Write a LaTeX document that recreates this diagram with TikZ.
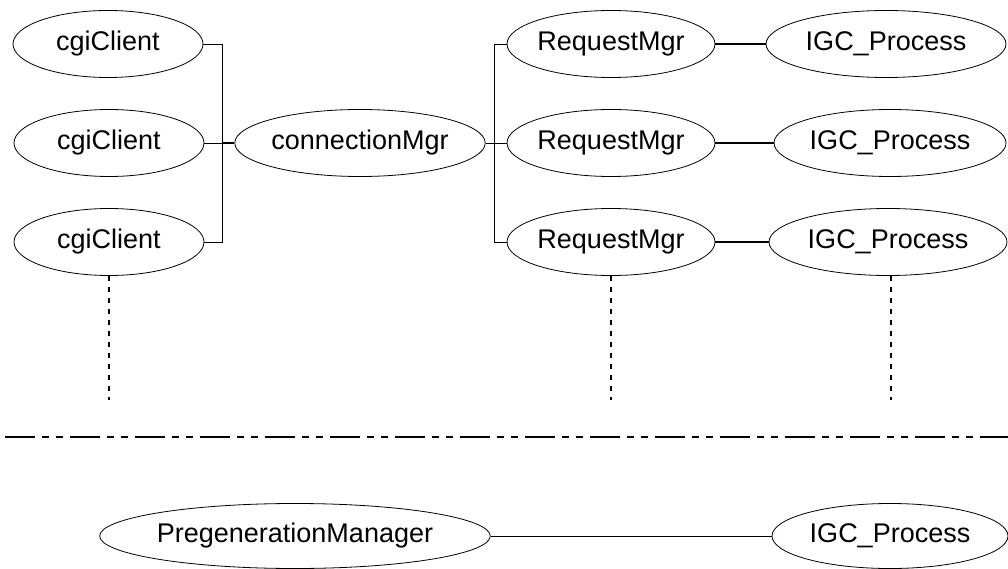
\documentclass[tikz,border=0pt]{standalone}
\usepackage{fontspec}
\setmainfont{Liberation Sans}
\usetikzlibrary{shapes.geometric}
\begin{document}
\begin{tikzpicture}[x=1pt,y=-1pt,
  ell/.style={draw,ellipse,inner sep=0pt,minimum height=67pt,font=\fontsize{27}{30}\selectfont,line width=0.8pt},
  conn/.style={line width=0.9pt},
  drop/.style={line width=2pt,dash pattern=on 5pt off 6pt},
  divider/.style={line width=2.8pt,dash pattern=on 30pt off 7pt on 7pt off 7pt on 7pt off 7pt}]
\useasboundingbox (0,0) rectangle (1008,569);
\node[ell,minimum width=190pt] (c1) at (108,44) {cgiClient};
\node[ell,minimum width=190pt] (c2) at (109,143) {cgiClient};
\node[ell,minimum width=190pt] (c3) at (109,242) {cgiClient};
\node[ell,minimum width=235pt] (cm) at (360,143) {connectionMgr};
\node[ell,minimum width=200pt] (r1) at (611,44) {RequestMgr};
\node[ell,minimum width=202pt] (r2) at (611,143) {RequestMgr};
\node[ell,minimum width=202pt] (r3) at (611,242) {RequestMgr};
\node[ell,minimum width=240pt] (p1) at (886,44) {IGC\_Process};
\node[ell,minimum width=232pt] (p2) at (890,143) {IGC\_Process};
\node[ell,minimum width=238pt] (p3) at (888,242) {IGC\_Process};
\node[ell,minimum width=370pt,minimum height=65pt] (pm) at (295,536) {PregenerationManager};
\node[ell,minimum width=236pt,minimum height=65pt] (p4) at (890,536) {IGC\_Process};
% left bus
\coordinate (lb1) at (222,44);
\coordinate (lb3) at (222,242);
\coordinate (lb2) at (222,143);
\draw[conn] (c1.east) -- (lb1) -- (lb3) -- (c3.east);
\draw[conn] (c2.east) -- (lb2);
\draw[conn,line width=1.4pt] (lb2) -- (cm.west);
% right bus
\coordinate (rb1) at (494,44);
\coordinate (rb3) at (494,242);
\draw[conn] (r1.west) -- (rb1) -- (rb3) -- (r3.west);
\draw[conn] (cm.east) -- (r2.west);
\draw[conn,line width=1.2pt] (r1.east) -- (p1.west);
\draw[conn,line width=1.2pt] (r2.east) -- (p2.west);
\draw[conn,line width=1.2pt] (r3.east) -- (p3.west);
\draw[conn] (pm.east) -- (p4.west);
% drop lines
\coordinate (d1) at (109,400);
\coordinate (d2) at (611,400);
\coordinate (d3) at (891,400);
\draw[drop] (c3.south) -- (d1);
\draw[drop] (r3.south) -- (d2);
\draw[drop] (p3.south -| d3) -- (d3);
% divider
\coordinate (dl) at (5,437);
\coordinate (dr) at (1008,437);
\draw[divider] (dl) -- (dr);
\end{tikzpicture}
\end{document}
